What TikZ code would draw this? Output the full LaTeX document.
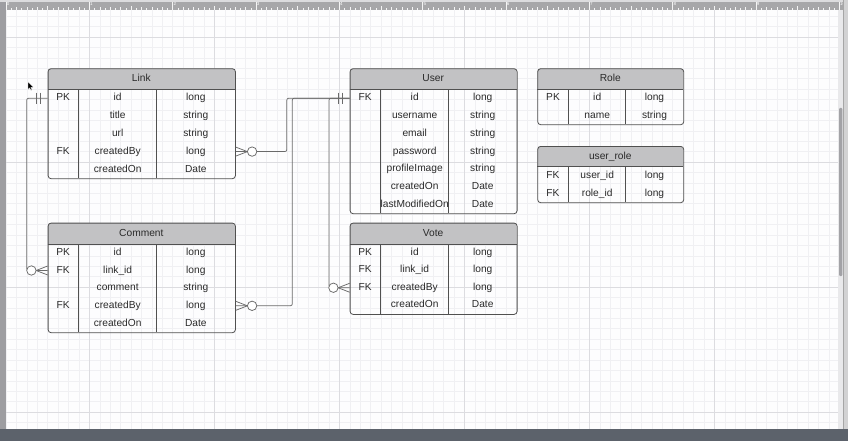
\documentclass[tikz,border=0pt]{standalone}
\usepackage{fontspec}
\setmainfont{Liberation Sans}
\usetikzlibrary{calc}
\definecolor{bgc}{HTML}{FDFDFE}
\definecolor{gridminor}{HTML}{F0F0F3}
\definecolor{gridmajor}{HTML}{DCDCE0}
\definecolor{rulerc}{HTML}{A7A7A9}
\definecolor{rulertop}{HTML}{DCDCDE}
\definecolor{sidec}{HTML}{9D9DA1}
\definecolor{barc}{HTML}{5C626B}
\definecolor{trackc}{HTML}{E9E9EB}
\definecolor{thumbc}{HTML}{A2A2A6}
\definecolor{tabline}{HTML}{505050}
\definecolor{headgray}{HTML}{C2C2C4}
\definecolor{txt}{HTML}{2A2A2A}
\definecolor{connc}{HTML}{6A6A6A}
\tikzset{
  tablebox/.style={draw=tabline, line width=0.8pt, rounded corners=3pt, inner sep=0pt, rectangle},
  tableline/.style={draw=tabline, line width=0.8pt},
  headfill/.style={fill=headgray},
  celltext/.style={font=\fontsize{10.2}{12}\selectfont, text=txt, inner sep=0pt, text height=7.4pt, text depth=2pt},
  conn/.style={draw=connc, line width=0.75pt},
  gminor/.style={draw=gridminor, line width=0.45pt},
  gmajor/.style={draw=gridmajor, line width=0.7pt},
  rulertick/.style={draw=white!92!gray, line width=0.5pt},
  rulerlabel/.style={font=\fontsize{4.5}{5}\selectfont, text=white, inner sep=0.3pt, anchor=north west},
}
% table: name, xl, col1, col2, xr, top, header bottom, bottom, title
\newcommand\ertable[9]{%
  \def\tabname{#1}\def\tabxl{#2}\def\tabca{#3}\def\tabcb{#4}\def\tabxr{#5}%
  \def\tabtop{#6}\def\tabhb{#7}\def\tabbot{#8}%
  \begin{scope}
    \clip[rounded corners=3pt] (#2,#6) rectangle (#5,#8);
    \fill[headfill] (#2,#6) rectangle (#5,#7);
  \end{scope}
  \node[tablebox, minimum width={#5-#2}, minimum height={#8-#6}, anchor=north west] (#1) at (#2,#6) {};
  \draw[tableline] (#2,#7) -- (#5,#7) (#3,#7) -- (#3,#8) (#4,#7) -- (#4,#8);
  \node[celltext] (#1-title) at ({(#2+#5)/2},{(#6+#7)/2}) {#9};
}
\newcommand\errows[2]{%
  \pgfmathsetmacro\tabrh{(\tabbot-\tabhb)/#1}%
  \foreach \k/\f/\t [count=\i] in {#2}{%
    \pgfmathsetmacro\yy{\tabhb+(\i-0.5)*\tabrh}%
    \node[celltext] (\tabname-k\i) at ({(\tabxl+\tabca)/2},\yy) {\k};
    \node[celltext] (\tabname-f\i) at ({(\tabca+\tabcb)/2},\yy) {\f};
    \node[celltext] (\tabname-t\i) at ({(\tabcb+\tabxr)/2},\yy) {\t};
  }%
}
% one and only one: point, direction (+1 right, -1 left)
\newcommand\onlyone[2]{%
  \draw[conn] ($(#1)+(#2*7,-5.5)$) -- ++(0,11) ($(#1)+(#2*11,-5.5)$) -- ++(0,11);
}
% zero or many
\newcommand\zeromany[2]{%
  \draw[conn] ($(#1)+(#2*11.6,0)$) -- ($(#1)+(0,-4.5)$) ($(#1)+(#2*11.6,0)$) -- ($(#1)+(0,4.5)$);
  \draw[conn, fill=white] ($(#1)+(#2*16.3,0)$) circle[radius=4.7pt];
}
\begin{document}
\begin{tikzpicture}[x=1pt,y=-1pt]
\useasboundingbox (0,0) rectangle (848,441);
% background
\fill[bgc] (0,0) rectangle (848,441);
% grid
\foreach \i in {0,...,80} \draw[gminor] ({6+10.4167*\i},10) -- ({6+10.4167*\i},429);
\foreach \i in {-1,...,38} \draw[gminor] (6,{412-10.4167*\i}) -- (838,{412-10.4167*\i});
\foreach \i in {0,...,5} \draw[gmajor] ({89.33+125*\i},10) -- ({89.33+125*\i},429);
\foreach \yv in {37,162,287,412} \draw[gmajor] (6,\yv) -- (838,\yv);
% ruler
\fill[rulertop] (0,0) rectangle (848,1.7);
\fill[rulerc] (6,1.7) rectangle (843,9.6);
\begin{scope}
  \clip (6,1.7) rectangle (843,9.6);
  \foreach \j in {0,...,10}{%
    \draw[rulertick] ({6+83.333*\j},1.7) -- ({6+83.333*\j},9.6);
    \node[rulerlabel] (rl\j) at ({6.4+83.333*\j},2) {\j};
    \foreach \k in {1,...,15}{%
      \pgfmathsetmacro\hh{\k==8 ? 4 : (mod(\k,4)==0 ? 3 : (mod(\k,2)==0 ? 2.2 : 1.3))}%
      \draw[rulertick] ({6+83.333*\j+5.2083*\k},9.6) -- ++(0,-\hh);
    }
  }
\end{scope}
% left side bar
\fill[sidec] (0,1.7) rectangle (6,429);
% scrollbar
\fill[trackc] (838.3,9.6) rectangle (843.3,429);
\fill[thumbc, rounded corners=1pt] (839.2,108) rectangle (842.3,276);
\fill[trackc!90!black] (844,0) rectangle (848,429);
\draw[draw=gray!70, line width=0.8pt] (843.7,0) -- (843.7,429);
% bottom bar
\fill[barc] (0,429) rectangle (848,441);

% ===== tables =====
\ertable{link}{47.7}{78.7}{156.7}{235}{68.3}{89.3}{178.3}{Link}
\errows{5}{PK/id/long, /title/string, /url/string, FK/createdBy/long, /createdOn/Date}

\ertable{comment}{47.7}{78.7}{156.7}{235}{222.7}{244}{332.3}{Comment}
\errows{5}{PK/id/long, FK/link\_id/long, /comment/string, FK/createdBy/long, /createdOn/Date}

\ertable{user}{349.7}{380.7}{448.7}{516.7}{68.3}{89.3}{213.3}{User}
\errows{7}{FK/id/long, /username/string, /email/string, /password/string, /profileImage/string, /createdOn/Date, /lastModifiedOn/Date}

\ertable{vote}{349.7}{380.7}{448.7}{516.7}{222.7}{244}{314}{Vote}
\errows{4}{PK/id/long, FK/link\_id/long, FK/createdBy/long, /createdOn/Date}

\ertable{role}{537.3}{568.7}{625.7}{683.3}{68.3}{89.3}{124.3}{Role}
\errows{2}{PK/id/long, /name/string}

\ertable{urole}{537.3}{568.7}{625.7}{683.3}{146}{166.7}{202.3}{user\_role}
\errows{2}{FK/user\_id/long, FK/role\_id/long}

% ===== connectors =====
\coordinate (la) at (link.west |- link-k1);
\coordinate (cl) at (comment.west |- comment-k2);
\coordinate (ua) at (user.west |- user-k1);
\coordinate (lb) at (link.east |- link-k4);
\coordinate (cb) at (comment.east |- comment-k4);
\coordinate (vb) at (vote.west |- vote-k3);

\draw[conn, rounded corners=2pt] (la) -- ++(-21,0) |- (cl);
\draw[conn, rounded corners=2pt] (ua) -| ($(lb)+(51,0)$) -- (lb);
\draw[conn, rounded corners=2pt] (ua) -| ($(cb)+(56.5,0)$) -- (cb);
\draw[conn, rounded corners=2pt] (ua) -| ($(vb)+(-20.7,0)$) -- (vb);

\onlyone{la}{-1}
\onlyone{ua}{-1}
\zeromany{cl}{-1}
\zeromany{lb}{1}
\zeromany{cb}{1}
\zeromany{vb}{-1}

% mouse cursor
\fill[black, draw=white, line width=0.3pt] (28,82) -- (28,89.5) -- (29.8,87.9) -- (30.9,90.3) -- (32,89.8) -- (30.9,87.4) -- (33.2,87.2) -- cycle;
\end{tikzpicture}
\end{document}
